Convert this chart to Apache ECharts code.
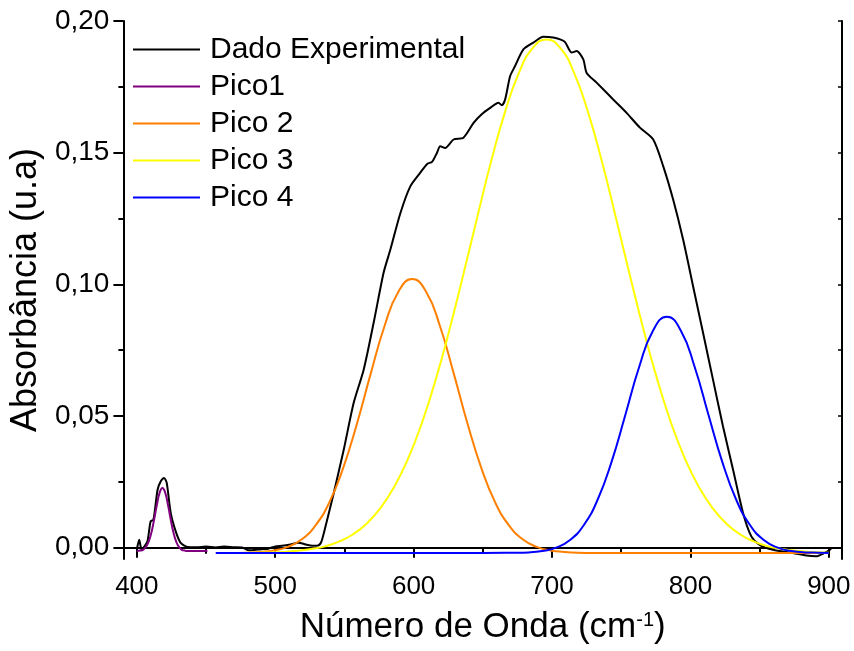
<!DOCTYPE html>
<html>
<head>
<meta charset="utf-8">
<script src="https://cdn.jsdelivr.net/npm/echarts@6/dist/echarts.min.js"></script>
<style>html,body{margin:0;padding:0;background:#fff}#c{width:854px;height:651px}</style>
</head>
<body>
<div id="c"></div>
<script>
// ---- data ----
const seriesNames = ['Dado Experimental', 'Pico1', 'Pico 2', 'Pico 3', 'Pico 4'];
const xTicks = [400, 500, 600, 700, 800, 900];
const xMinorTicks = [450, 550, 650, 750, 850];
const yTicks = [0, 0.05, 0.10, 0.15, 0.20];
const yMinorTicks = [0.025, 0.075, 0.125, 0.175];

const dadoX = [400,401.7,403.5,405.5,407.7,410,412,415,417.3,419.7,421.6,424.5,428.1,431.7,436.6,443,450,457,463,470,476,481,485,490,495,500,505,511,517,522,527,531,533.5,537,542.3,549.5,556.7,563.9,571.1,578.3,583.2,590.4,597.6,604.8,610,613.3,616.9,619.2,622.8,628.8,636,643.3,649,655.3,661.3,663.7,666.1,669.7,673.3,679.3,686.5,693.7,700.9,705.8,709.4,714.2,717.8,722.6,725,732.2,744.2,753.9,763.5,773.1,780.3,787.5,794.7,801.9,809.1,816.3,823.5,830.8,838,844,850,859.6,874,883.7,890.9,895.7,901.7];
const dadoY = [-0.0008,0.003,-0.0008,0.0005,0.0024,0.010,0.0106,0.022,0.0252,0.0265,0.0246,0.0132,0.0062,0.0018,0.0003,0.0002,0.0004,0.0001,0.0004,0.0002,0.0001,-0.001,-0.0009,-0.0006,-0.0004,0.0005,0.0007,0.0012,0.0019,0.0012,0.0007,0.0008,0.0025,0.0095,0.0208,0.0372,0.055,0.0676,0.0854,0.1044,0.1132,0.127,0.1372,0.1424,0.1458,0.1465,0.1500,0.1524,0.1518,0.1550,0.1557,0.1613,0.1645,0.1670,0.1690,0.1680,0.1702,0.1790,0.1829,0.1892,0.1918,0.1940,0.1937,0.1930,0.1920,0.1880,0.1886,0.1854,0.1803,0.1766,0.1702,0.1651,0.1595,0.1550,0.1449,0.1322,0.1170,0.0993,0.0816,0.0638,0.0461,0.0296,0.0132,0.0043,0.0011,-0.0008,-0.0020,-0.0030,-0.0033,-0.0023,-0.0005];

const pico1X = [400,402.5,404.5,406.5,408.5,410.5,412.5,414.5,416.5,418.5,420.5,422.5,424.5,426.5,428.5,430.5,432.5,434.5,436.5,451];
const pico1Y = [-0.0013,-0.0011,-0.0008,0.0002,0.0022,0.0057,0.0107,0.0163,0.0209,0.0227,0.0209,0.0163,0.0107,0.0057,0.0022,0.0002,-0.0008,-0.0011,-0.0013,-0.0013];

const pico2X = [460,469,479,489,499,509,519,529,539,549,559,569,579,589,599,609,619,629,639,649,659,669,679,689,699,709,719,729,740,800,900];
const pico2Y = [-0.0020,-0.0020,-0.0019,-0.0016,-0.0011,0.0003,0.0031,0.0084,0.0171,0.0301,0.0470,0.0661,0.0842,0.0972,0.1020,0.0972,0.0842,0.0661,0.0470,0.0301,0.0171,0.0084,0.0031,0.0003,-0.0011,-0.0016,-0.0019,-0.0020,-0.0020,-0.0020,-0.0020];

const pico3X = [460,476,486,496,506,516,526,536,546,556,566,576,586,596,606,616,626,636,646,656,666,676,686,696,706,716,726,736,746,756,766,776,786,796,806,816,826,836,846,856,866,876,886,896,900];
const pico3Y = [-0.0020,-0.0020,-0.0019,-0.0018,-0.0016,-0.0012,-0.0005,0.0005,0.0023,0.0050,0.0091,0.0150,0.0231,0.0338,0.0474,0.0639,0.0830,0.1039,0.1256,0.1467,0.1654,0.1802,0.1897,0.1930,0.1897,0.1802,0.1654,0.1467,0.1256,0.1039,0.0830,0.0639,0.0474,0.0338,0.0231,0.0150,0.0091,0.0050,0.0023,0.0005,-0.0005,-0.0012,-0.0016,-0.0018,-0.0019];

const pico4X = [457,600,650,673,683,693,703,713,723,733,743,753,763,773,783,793,803,813,823,833,843,853,863,873,883,893,900];
const pico4Y = [-0.0020,-0.0020,-0.0020,-0.0019,-0.0018,-0.0013,0.0000,0.0029,0.0086,0.0183,0.0326,0.0505,0.0687,0.0825,0.0877,0.0825,0.0687,0.0505,0.0326,0.0183,0.0086,0.0029,0.0000,-0.0013,-0.0018,-0.0019,-0.0020];

const colors = ['#000000', '#800080', '#FF8000', '#FFFF00', '#0000FF'];

// ---- chart ----
const FONT = '"Liberation Sans", Arial, sans-serif';
const XMIN = 390.3, XMAX = 909.5, YMIN = -0.0043, YMAX = 0.2;
const pairs = (xs, ys) => xs.map((x, i) => [x, ys[i]]);
const allX = [dadoX, pico1X, pico2X, pico3X, pico4X];
const allY = [dadoY, pico1Y, pico2Y, pico3Y, pico4Y];
const axLine = { show: true, lineStyle: { color: '#000', width: 2 } };

const chart = echarts.init(document.getElementById('c'), null, { renderer: 'canvas' });
chart.setOption({
  animation: false,
  backgroundColor: '#fff',
  grid: { left: 123, right: 12, top: 21, bottom: 92, containLabel: false },
  legend: {
    orient: 'vertical', left: 133, top: 31, padding: 0,
    icon: 'rect', itemWidth: 67, itemHeight: 2, itemGap: 0,
    textStyle: { fontFamily: FONT, fontSize: 30, color: '#000', lineHeight: 37, padding: [0, 0, 0, 5] },
    data: seriesNames
  },
  xAxis: [
    {
      type: 'value', min: XMIN, max: XMAX, position: 'bottom', offset: 0,
      axisLine: axLine,
      axisTick: { show: true, customValues: xTicks, length: 10, inside: false, lineStyle: { color: '#000', width: 2 } },
      axisLabel: { customValues: xTicks, fontFamily: FONT, fontSize: 26, color: '#000', margin: 15,
        formatter: v => String(Math.round(v)) },
      splitLine: { show: false },
      name: 'Número de Onda (cm{sup|-1})', nameLocation: 'middle', nameGap: 51,
      nameTextStyle: { fontFamily: FONT, fontSize: 35, color: '#000',
        rich: { sup: { fontFamily: FONT, fontSize: 20, color: '#000', padding: [0, 0, 15, 0] } } }
    },
    {
      type: 'value', min: XMIN, max: XMAX, position: 'bottom', offset: 0,
      axisLine: { show: false },
      axisTick: { show: true, customValues: xMinorTicks, length: 6, inside: false, lineStyle: { color: '#000', width: 2 } },
      axisLabel: { show: false }, splitLine: { show: false }
    },
    {
      type: 'value', min: XMIN, max: XMAX, position: 'top', offset: 0,
      axisLine: axLine,
      axisTick: { show: true, customValues: xTicks.concat(xMinorTicks), length: 4, inside: true, lineStyle: { color: '#000', width: 1.5 } },
      axisLabel: { show: false }, splitLine: { show: false }
    }
  ],
  yAxis: [
    {
      type: 'value', min: YMIN, max: YMAX, position: 'left', offset: 0,
      axisLine: axLine,
      axisTick: { show: true, customValues: yTicks, length: 10, inside: false, lineStyle: { color: '#000', width: 2 } },
      axisLabel: { customValues: yTicks, fontFamily: FONT, fontSize: 28, color: '#000', margin: 14,
        formatter: v => v.toFixed(2).replace('.', ',') },
      splitLine: { show: false },
      name: 'Absorbância (u.a)', nameLocation: 'middle', nameGap: 66,
      nameTextStyle: { fontFamily: FONT, fontSize: 36, color: '#000' }
    },
    {
      type: 'value', min: YMIN, max: YMAX, position: 'left', offset: 0,
      axisLine: { show: false },
      axisTick: { show: true, customValues: yMinorTicks, length: 5, inside: false, lineStyle: { color: '#000', width: 2 } },
      axisLabel: { show: false }, splitLine: { show: false }
    },
    {
      type: 'value', min: YMIN, max: YMAX, position: 'right', offset: 0,
      axisLine: axLine,
      axisTick: { show: true, customValues: yTicks.concat(yMinorTicks), length: 4, inside: true, lineStyle: { color: '#000', width: 1.5 } },
      axisLabel: { show: false }, splitLine: { show: false }
    }
  ],
  series: seriesNames.map((name, i) => ({
    name: name, type: 'line', xAxisIndex: 0, yAxisIndex: 0,
    data: pairs(allX[i], allY[i]),
    showSymbol: false, symbol: 'none',
    smooth: i === 0 ? 0.25 : 0.5,
    lineStyle: { color: colors[i], width: 2 },
    itemStyle: { color: colors[i] },
    z: 2 + i
  }))
});
</script>
</body>
</html>
